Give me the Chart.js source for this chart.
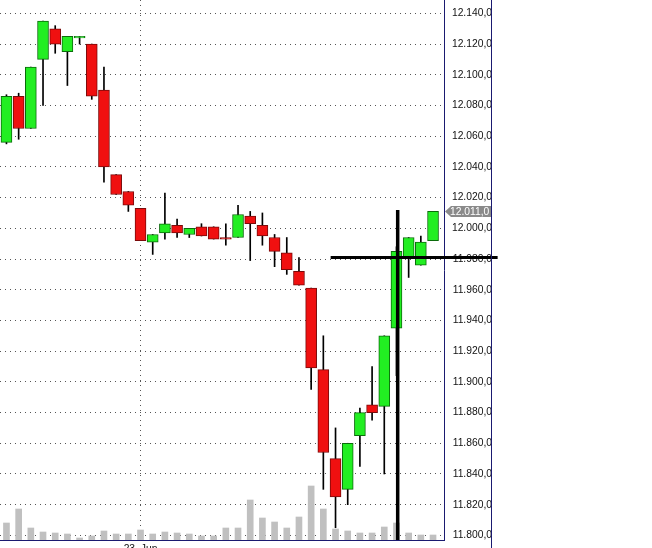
<!DOCTYPE html>
<html>
  <head>
    <script src="https://cdn.jsdelivr.net/npm/chart.js"></script>
    <style>
      html, body { margin: 0; padding: 0; background: #fff; overflow: hidden; }
      #wrap { position: relative; width: 652px; height: 560px; }
    </style>
  </head>
  <body>
    <div id="wrap"><canvas id="chart"></canvas></div>

    <script>
      // candles, one per bar index (intraday)
      const opens  = [12056, 12086, 12065, 12110, 12130, 12115, 12124, 12120, 12090, 12035, 12024, 12013,
                      11991, 11997, 12002, 11996, 12001, 12001, 11994, 11994, 12008, 12002, 11994, 11984,
                      11972, 11961, 11908, 11850, 11830, 11865, 11885, 11884, 11935, 11981, 11976, 11992];
      const highs  = [12087, 12088, 12105, 12135, 12132, 12125, 12125, 12120, 12105, 12035, 12024, 12013,
                      11996, 12023, 12006, 12000, 12003, 12001, 12003, 12015, 12011, 12010, 11996, 11994,
                      11981, 11961, 11930, 11870, 11860, 11883, 11910, 11930, 11988, 11994, 11995, 12011];
      const lows   = [12055, 12058, 12065, 12080, 12114, 12093, 12120, 12084, 12030, 12022, 12011, 11992,
                      11983, 11993, 11994, 11994, 11995, 11993, 11989, 11994, 11979, 11989, 11975, 11970,
                      11963, 11895, 11830, 11805, 11820, 11845, 11875, 11840, 11904, 11968, 11976, 11992];
      const closes = [12086, 12065, 12105, 12135, 12120, 12125, 12125, 12086, 12040, 12022, 12015, 11992,
                      11996, 12003, 11997, 12000, 11995, 11993, 11993, 12009, 12003, 11995, 11985, 11973,
                      11963, 11909, 11854, 11825, 11860, 11880, 11880, 11930, 11985, 11994, 11991, 12011];
      const volumes = [17, 31, 12, 8, 7, 6, 2, 4, 9, 6, 6, 10, 6, 8, 7, 6, 4, 4,
                       12, 12, 40, 22, 18, 12, 23, 54, 31, 11, 9, 7, 7, 13, 17, 7, 5, 5];

      const yTicks = [11800, 11820, 11840, 11860, 11880, 11900, 11920, 11940, 11960,
                      11980, 12000, 12020, 12040, 12060, 12080, 12100, 12120, 12140];
      const dayIndex = 11;
      const dayLabel = "23. Jun";

      // crosshair drawn on the chart
      const crossIndex = 32.1;
      const crossValue = 11981;
      const crossTop = 12012;
      const crossFrom = 26.6;
      const crossTo = 40.3;

      const yMin = 11797, yMax = 12148.7;

      const idx = opens.map((_, i) => i);
      const isUp = idx.map(i => closes[i] >= opens[i]);

      const fmt = v => {
        const s = Math.round(v).toString();
        return s.slice(0, s.length - 3) + "." + s.slice(-3) + ",0";
      };

      const frame = {
        id: "frame",
        afterDraw(chart) {
          const ctx = chart.ctx;
          const ys = chart.scales.y;
          // right edge of price panel
          ctx.save();
          ctx.strokeStyle = "#1a1a70";
          ctx.lineWidth = 1;
          ctx.beginPath();
          ctx.moveTo(ys.right - 0.5, 0);
          ctx.lineTo(ys.right - 0.5, chart.height);
          ctx.stroke();
          // last price tag
          const last = closes[closes.length - 1];
          const py = ys.getPixelForValue(last);
          const l = ys.left + 1, r = ys.right - 1, h = 5.5;
          ctx.fillStyle = "#8a8a8a";
          ctx.beginPath();
          ctx.moveTo(l, py);
          ctx.lineTo(l + 6, py - h);
          ctx.lineTo(r, py - h);
          ctx.lineTo(r, py + h);
          ctx.lineTo(l + 6, py + h);
          ctx.closePath();
          ctx.fill();
          ctx.beginPath();
          ctx.rect(l, py - h, r - l, 2 * h);
          ctx.clip();
          ctx.fillStyle = "#ffffff";
          ctx.font = "10.3px 'Liberation Sans', Arial, sans-serif";
          ctx.textAlign = "left";
          ctx.textBaseline = "middle";
          ctx.fillText(fmt(last), l + 5, py + 0.5);
          ctx.restore();
        }
      };

      new Chart(document.getElementById("chart"), {
        type: "bar",
        data: {
          datasets: [
            {
              type: "line",
              data: [{ x: crossFrom, y: crossValue }, { x: crossTo, y: crossValue }],
              borderColor: "#000",
              borderWidth: 3,
              pointRadius: 0,
              clip: false,
              yAxisID: "y"
            },
            {
              type: "line",
              data: [{ x: crossIndex, y: crossTop }, { x: crossIndex, y: yMin }],
              borderColor: "#000",
              borderWidth: 3.5,
              pointRadius: 0,
              clip: false,
              yAxisID: "y"
            },
            {
              data: idx.map(i => ({ x: i, y: [opens[i], closes[i]] })),
              backgroundColor: isUp.map(u => (u ? "#22ee22" : "#f01010")),
              borderColor: isUp.map(u => (u ? "#0b6b0b" : "#7a0a0a")),
              borderWidth: 1,
              borderSkipped: false,
              barThickness: 11,
              grouped: false,
              yAxisID: "y"
            },
            {
              data: idx.map(i => ({ x: i, y: [lows[i], highs[i]] })),
              backgroundColor: "#000",
              barThickness: 1,
              grouped: false,
              yAxisID: "y"
            },
            {
              data: idx.map(i => ({ x: i, y: volumes[i] })),
              backgroundColor: "#c0c0c0",
              barThickness: 6,
              grouped: false,
              yAxisID: "yv"
            }
          ]
        },
        options: {
          responsive: true,
          maintainAspectRatio: false,
          animation: false,
          layout: { padding: { left: 0, top: 0, right: 160, bottom: 0 } },
          plugins: {
            legend: { display: false },
            tooltip: { enabled: false }
          },
          scales: {
            x: {
              type: "linear",
              min: -0.53,
              max: 35.9,
              offset: false,
              grid: { offset: false, color: "#555", drawTicks: false },
              border: { color: "#1a1a70", width: 1, dash: [1, 4] },
              afterBuildTicks: s => { s.ticks = [{ value: dayIndex }]; },
              ticks: {
                callback: () => dayLabel,
                color: "#111",
                padding: 3,
                maxRotation: 0,
                font: { family: "'Liberation Sans', Arial, sans-serif", size: 10.3 }
              },
              afterFit: s => {
                s.height = 20;
                s.paddingLeft = 0;
                s.paddingRight = 0;
              }
            },
            y: {
              type: "linear",
              position: "right",
              min: yMin,
              max: yMax,
              grid: { color: "#555", drawTicks: false },
              border: { color: "#1a1a70", width: 1, dash: [1, 4] },
              afterBuildTicks: s => { s.ticks = yTicks.map(v => ({ value: v })); },
              ticks: {
                callback: v => fmt(v),
                color: "#111",
                padding: 4,
                crossAlign: "far",
                font: { family: "'Liberation Sans', Arial, sans-serif", size: 10.3 }
              },
              afterFit: s => {
                s.width = 48;
                s.paddingTop = 0;
                s.paddingBottom = 0;
              }
            },
            yv: {
              type: "linear",
              display: false,
              min: 0,
              max: 540
            }
          }
        },
        plugins: [frame]
      });
    </script>
  </body>
</html>
